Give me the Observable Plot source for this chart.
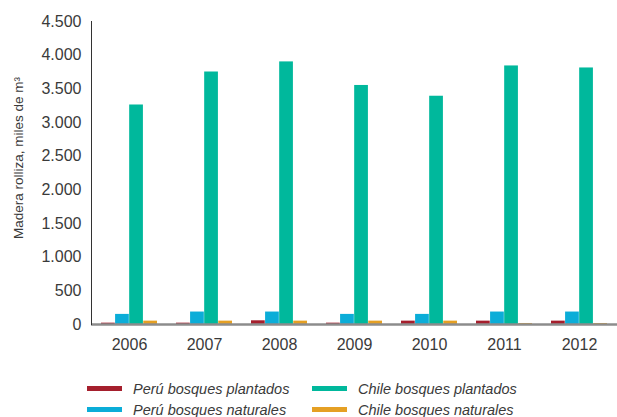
<!DOCTYPE html>
<html>
<head>
<meta charset="utf-8">
<script src="https://cdn.jsdelivr.net/npm/d3@7"></script>
<script src="https://cdn.jsdelivr.net/npm/@observablehq/plot@0.6"></script>
<style>
  body { margin: 0; background: #fff; font-family: "Liberation Sans", Arial, sans-serif; }
  #chart svg { display: block; }
  .legend { display: grid; grid-template-columns: 225px 260px; row-gap: 4px; margin-left: 87px; margin-top: 16px; }
  .item { display: flex; align-items: center; font-style: italic; font-size: 14.5px; color: #3a3a3a; height: 17px; }
  .sw { width: 35px; height: 5px; margin-right: 11px; }
</style>
</head>
<body>
<div id="chart"></div>
<div class="legend" id="legend"></div>
<script>
const years = ["2006", "2007", "2008", "2009", "2010", "2011", "2012"];
const seriesNames = ["Perú bosques plantados", "Perú bosques naturales", "Chile bosques plantados", "Chile bosques naturales"];
const seriesColors = ["#a51f2d", "#0badd8", "#00b89c", "#e5a024"];
const peruPlantados = [20, 20, 55, 20, 50, 50, 50];
const peruNaturales = [150, 185, 185, 150, 150, 185, 185];
const chilePlantados = [3260, 3750, 3900, 3550, 3390, 3840, 3810];
const chileNaturales = [50, 50, 50, 50, 50, 15, 15];
const yTicks = [0, 500, 1000, 1500, 2000, 2500, 3000, 3500, 4000, 4500];

const allSeries = [peruPlantados, peruNaturales, chilePlantados, chileNaturales];
const rows = [];
allSeries.forEach((vals, i) => vals.forEach((v, j) => rows.push({year: years[j], series: seriesNames[i], idx: i, value: v})));

const fmt = d3.formatLocale({decimal: ",", thousands: ".", grouping: [3], currency: ["", ""]}).format(",");

const W = 617, ML = 91, MR = 0;
const step = (W - ML - MR) / 7;
const bw = step * 0.75;
const w = bw / 4;

const barMarks = seriesNames.map((s, i) =>
  Plot.barY(rows.filter(r => r.idx === i), {
    x: "year", y: "value", fill: seriesColors[i],
    insetLeft: i * w, insetRight: (3 - i) * w
  })
);

const chart = Plot.plot({
  width: W, height: 364,
  marginLeft: ML, marginRight: MR, marginTop: 21, marginBottom: 40,
  style: {fontFamily: "Liberation Sans, Arial, sans-serif", fontSize: "16px", color: "#3a3a3a"},
  x: {domain: years, paddingInner: 0.25, paddingOuter: 0.125, label: null},
  y: {domain: [0, 4500], label: null},
  marks: [
    ...barMarks,
    Plot.ruleY([0], {stroke: "#8c8c8c", strokeWidth: 2.5}),
    Plot.frame({anchor: "left", stroke: "#333"}),
    Plot.axisX({tickSize: 0, tickPadding: 14, label: null}),
    Plot.axisY({ticks: yTicks, tickFormat: fmt, tickSize: 0, tickPadding: 10, label: null}),
    Plot.text(["Madera rolliza, miles de m³"], {frameAnchor: "left", textAnchor: "middle", dx: -73, dy: -15, rotate: -90, fontSize: 13.5, fill: "#3a3a3a"})
  ]
});
document.getElementById("chart").appendChild(chart);

const legend = document.getElementById("legend");
[0, 2, 1, 3].forEach(i => {
  const it = document.createElement("div");
  it.className = "item";
  it.innerHTML = `<span class="sw" style="background:${seriesColors[i]}"></span><span>${seriesNames[i]}</span>`;
  legend.appendChild(it);
});
</script>
</body>
</html>
